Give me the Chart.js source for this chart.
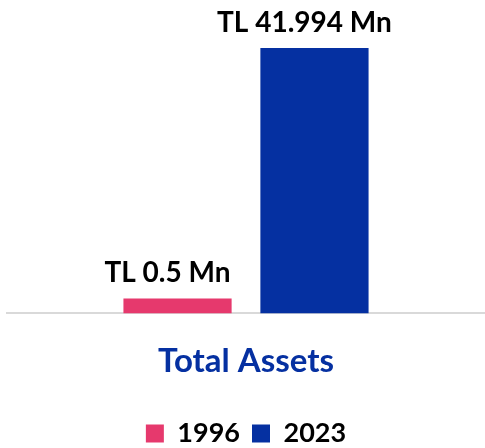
<!DOCTYPE html>
<html>
<head>
<meta charset="utf-8">
<script src="https://cdn.jsdelivr.net/npm/chart.js@4"></script>
<style>
  html, body { margin: 0; padding: 0; background: #fff; }
  #wrap { width: 485px; height: 448px; }
</style>
</head>
<body>
<div id="wrap"><canvas id="assetsChart"></canvas></div>
<script>
const categories = ["Total Assets"];
const years = ["1996", "2023"];
const assets1996 = [0.5];
const assets2023 = [41.994];
const valueLabels = ["TL 0.5 Mn", "TL 41.994 Mn"];

const FONT = "Lato, 'Open Sans', sans-serif";

// draws the value text over each bar
const barLabels = {
  id: "barLabels",
  afterDatasetsDraw(chart) {
    const ctx = chart.ctx;
    ctx.save();
    ctx.font = "bold 28px " + FONT;
    ctx.fillStyle = "#000";
    ctx.textAlign = "center";
    ctx.textBaseline = "alphabetic";
    chart.data.datasets.forEach((ds, i) => {
      const bar = chart.getDatasetMeta(i).data[0];
      ctx.fillText(valueLabels[i], bar.x - 10, bar.y - 16);
    });
    ctx.restore();
  },
};

new Chart(document.getElementById("assetsChart"), {
  type: "bar",
  data: {
    labels: categories,
    datasets: [
      {
        label: years[0],
        data: assets1996,
        backgroundColor: "#E6396D",
        minBarLength: 15,
      },
      {
        label: years[1],
        data: assets2023,
        backgroundColor: "#0530A1",
      },
    ],
  },
  options: {
    responsive: true,
    maintainAspectRatio: false,
    animation: false,
    categoryPercentage: 0.573,
    barPercentage: 0.79,
    layout: { padding: { top: 48, left: 7, right: 0, bottom: -9 } },
    plugins: {
      legend: {
        position: "bottom",
        labels: {
          boxWidth: 18,
          boxHeight: 18,
          color: "#000",
          padding: 12,
          font: { family: FONT, size: 27, weight: "bold" },
        },
      },
      tooltip: { enabled: false },
    },
    scales: {
      y: {
        display: false,
        min: 0,
        max: 41.994,
      },
      x: {
        grid: { display: false },
        border: { display: true, color: "#d9d9d9", width: 2 },
        ticks: { display: false },
        title: {
          display: true,
          text: "Total Assets",
          color: "#0530A1",
          font: { family: FONT, size: 33, weight: "bold" },
          padding: { top: 20, bottom: 27 },
        },
      },
    },
  },
  plugins: [barLabels],
});
</script>
</body>
</html>
